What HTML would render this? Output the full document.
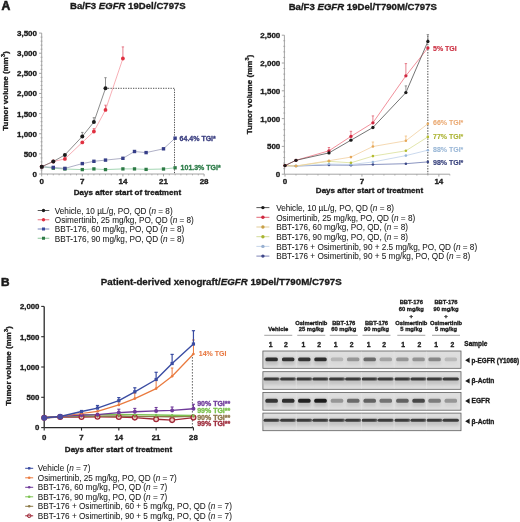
<!DOCTYPE html>
<html><head><meta charset="utf-8"><style>
html,body{margin:0;padding:0;background:#fff;}
svg{display:block;font-family:"Liberation Sans", sans-serif;filter:blur(0.3px);}
</style></head><body>
<svg width="520" height="522" viewBox="0 0 520 522">
<rect width="520" height="522" fill="#fff"/>
<text x="1.50" y="9.90" font-size="12.2" font-weight="bold" text-anchor="start" fill="#1a1a1a" stroke="#1a1a1a" stroke-width="0.6" >A</text>
<text x="70.00" y="9.40" font-size="9.6" font-weight="bold" text-anchor="start" fill="#1a1a1a" stroke="#1a1a1a" stroke-width="0.32" >Ba/F3 <tspan font-style="italic">EGFR</tspan> 19Del/C797S</text>
<line x1="41.70" y1="33.09" x2="41.70" y2="174.00" stroke="#9a9a9a" stroke-width="0.9" />
<line x1="39.10" y1="174.00" x2="41.70" y2="174.00" stroke="#9a9a9a" stroke-width="0.9" />
<text x="37.00" y="176.90" font-size="8.0" font-weight="bold" text-anchor="end" fill="#1a1a1a" stroke="#1a1a1a" stroke-width="0.32" >0</text>
<line x1="40.50" y1="169.97" x2="42.50" y2="169.97" stroke="#9a9a9a" stroke-width="0.7" />
<line x1="40.50" y1="165.95" x2="42.50" y2="165.95" stroke="#9a9a9a" stroke-width="0.7" />
<line x1="40.50" y1="161.92" x2="42.50" y2="161.92" stroke="#9a9a9a" stroke-width="0.7" />
<line x1="40.50" y1="157.90" x2="42.50" y2="157.90" stroke="#9a9a9a" stroke-width="0.7" />
<line x1="39.10" y1="153.87" x2="41.70" y2="153.87" stroke="#9a9a9a" stroke-width="0.9" />
<text x="37.00" y="156.77" font-size="8.0" font-weight="bold" text-anchor="end" fill="#1a1a1a" stroke="#1a1a1a" stroke-width="0.32" >500</text>
<line x1="40.50" y1="149.84" x2="42.50" y2="149.84" stroke="#9a9a9a" stroke-width="0.7" />
<line x1="40.50" y1="145.82" x2="42.50" y2="145.82" stroke="#9a9a9a" stroke-width="0.7" />
<line x1="40.50" y1="141.79" x2="42.50" y2="141.79" stroke="#9a9a9a" stroke-width="0.7" />
<line x1="40.50" y1="137.77" x2="42.50" y2="137.77" stroke="#9a9a9a" stroke-width="0.7" />
<line x1="39.10" y1="133.74" x2="41.70" y2="133.74" stroke="#9a9a9a" stroke-width="0.9" />
<text x="37.00" y="136.64" font-size="8.0" font-weight="bold" text-anchor="end" fill="#1a1a1a" stroke="#1a1a1a" stroke-width="0.32" >1,000</text>
<line x1="40.50" y1="129.71" x2="42.50" y2="129.71" stroke="#9a9a9a" stroke-width="0.7" />
<line x1="40.50" y1="125.69" x2="42.50" y2="125.69" stroke="#9a9a9a" stroke-width="0.7" />
<line x1="40.50" y1="121.66" x2="42.50" y2="121.66" stroke="#9a9a9a" stroke-width="0.7" />
<line x1="40.50" y1="117.64" x2="42.50" y2="117.64" stroke="#9a9a9a" stroke-width="0.7" />
<line x1="39.10" y1="113.61" x2="41.70" y2="113.61" stroke="#9a9a9a" stroke-width="0.9" />
<text x="37.00" y="116.51" font-size="8.0" font-weight="bold" text-anchor="end" fill="#1a1a1a" stroke="#1a1a1a" stroke-width="0.32" >1,500</text>
<line x1="40.50" y1="109.58" x2="42.50" y2="109.58" stroke="#9a9a9a" stroke-width="0.7" />
<line x1="40.50" y1="105.56" x2="42.50" y2="105.56" stroke="#9a9a9a" stroke-width="0.7" />
<line x1="40.50" y1="101.53" x2="42.50" y2="101.53" stroke="#9a9a9a" stroke-width="0.7" />
<line x1="40.50" y1="97.51" x2="42.50" y2="97.51" stroke="#9a9a9a" stroke-width="0.7" />
<line x1="39.10" y1="93.48" x2="41.70" y2="93.48" stroke="#9a9a9a" stroke-width="0.9" />
<text x="37.00" y="96.38" font-size="8.0" font-weight="bold" text-anchor="end" fill="#1a1a1a" stroke="#1a1a1a" stroke-width="0.32" >2,000</text>
<line x1="40.50" y1="89.45" x2="42.50" y2="89.45" stroke="#9a9a9a" stroke-width="0.7" />
<line x1="40.50" y1="85.43" x2="42.50" y2="85.43" stroke="#9a9a9a" stroke-width="0.7" />
<line x1="40.50" y1="81.40" x2="42.50" y2="81.40" stroke="#9a9a9a" stroke-width="0.7" />
<line x1="40.50" y1="77.38" x2="42.50" y2="77.38" stroke="#9a9a9a" stroke-width="0.7" />
<line x1="39.10" y1="73.35" x2="41.70" y2="73.35" stroke="#9a9a9a" stroke-width="0.9" />
<text x="37.00" y="76.25" font-size="8.0" font-weight="bold" text-anchor="end" fill="#1a1a1a" stroke="#1a1a1a" stroke-width="0.32" >2,500</text>
<line x1="40.50" y1="69.32" x2="42.50" y2="69.32" stroke="#9a9a9a" stroke-width="0.7" />
<line x1="40.50" y1="65.30" x2="42.50" y2="65.30" stroke="#9a9a9a" stroke-width="0.7" />
<line x1="40.50" y1="61.27" x2="42.50" y2="61.27" stroke="#9a9a9a" stroke-width="0.7" />
<line x1="40.50" y1="57.25" x2="42.50" y2="57.25" stroke="#9a9a9a" stroke-width="0.7" />
<line x1="39.10" y1="53.22" x2="41.70" y2="53.22" stroke="#9a9a9a" stroke-width="0.9" />
<text x="37.00" y="56.12" font-size="8.0" font-weight="bold" text-anchor="end" fill="#1a1a1a" stroke="#1a1a1a" stroke-width="0.32" >3,000</text>
<line x1="40.50" y1="49.19" x2="42.50" y2="49.19" stroke="#9a9a9a" stroke-width="0.7" />
<line x1="40.50" y1="45.17" x2="42.50" y2="45.17" stroke="#9a9a9a" stroke-width="0.7" />
<line x1="40.50" y1="41.14" x2="42.50" y2="41.14" stroke="#9a9a9a" stroke-width="0.7" />
<line x1="40.50" y1="37.12" x2="42.50" y2="37.12" stroke="#9a9a9a" stroke-width="0.7" />
<line x1="39.10" y1="33.09" x2="41.70" y2="33.09" stroke="#9a9a9a" stroke-width="0.9" />
<text x="37.00" y="35.99" font-size="8.0" font-weight="bold" text-anchor="end" fill="#1a1a1a" stroke="#1a1a1a" stroke-width="0.32" >3,500</text>
<line x1="41.70" y1="174.00" x2="204.10" y2="174.00" stroke="#9a9a9a" stroke-width="0.9" />
<line x1="41.70" y1="174.00" x2="41.70" y2="176.40" stroke="#9a9a9a" stroke-width="0.9" />
<text x="41.70" y="184.40" font-size="8.0" font-weight="bold" text-anchor="middle" fill="#1a1a1a" stroke="#1a1a1a" stroke-width="0.32" >0</text>
<line x1="47.50" y1="174.00" x2="47.50" y2="175.40" stroke="#9a9a9a" stroke-width="0.7" />
<line x1="53.30" y1="174.00" x2="53.30" y2="175.40" stroke="#9a9a9a" stroke-width="0.7" />
<line x1="59.10" y1="174.00" x2="59.10" y2="175.40" stroke="#9a9a9a" stroke-width="0.7" />
<line x1="64.90" y1="174.00" x2="64.90" y2="175.40" stroke="#9a9a9a" stroke-width="0.7" />
<line x1="70.70" y1="174.00" x2="70.70" y2="175.40" stroke="#9a9a9a" stroke-width="0.7" />
<line x1="76.50" y1="174.00" x2="76.50" y2="175.40" stroke="#9a9a9a" stroke-width="0.7" />
<line x1="82.30" y1="174.00" x2="82.30" y2="176.40" stroke="#9a9a9a" stroke-width="0.9" />
<text x="82.30" y="184.40" font-size="8.0" font-weight="bold" text-anchor="middle" fill="#1a1a1a" stroke="#1a1a1a" stroke-width="0.32" >7</text>
<line x1="88.10" y1="174.00" x2="88.10" y2="175.40" stroke="#9a9a9a" stroke-width="0.7" />
<line x1="93.90" y1="174.00" x2="93.90" y2="175.40" stroke="#9a9a9a" stroke-width="0.7" />
<line x1="99.70" y1="174.00" x2="99.70" y2="175.40" stroke="#9a9a9a" stroke-width="0.7" />
<line x1="105.50" y1="174.00" x2="105.50" y2="175.40" stroke="#9a9a9a" stroke-width="0.7" />
<line x1="111.30" y1="174.00" x2="111.30" y2="175.40" stroke="#9a9a9a" stroke-width="0.7" />
<line x1="117.10" y1="174.00" x2="117.10" y2="175.40" stroke="#9a9a9a" stroke-width="0.7" />
<line x1="122.90" y1="174.00" x2="122.90" y2="176.40" stroke="#9a9a9a" stroke-width="0.9" />
<text x="122.90" y="184.40" font-size="8.0" font-weight="bold" text-anchor="middle" fill="#1a1a1a" stroke="#1a1a1a" stroke-width="0.32" >14</text>
<line x1="128.70" y1="174.00" x2="128.70" y2="175.40" stroke="#9a9a9a" stroke-width="0.7" />
<line x1="134.50" y1="174.00" x2="134.50" y2="175.40" stroke="#9a9a9a" stroke-width="0.7" />
<line x1="140.30" y1="174.00" x2="140.30" y2="175.40" stroke="#9a9a9a" stroke-width="0.7" />
<line x1="146.10" y1="174.00" x2="146.10" y2="175.40" stroke="#9a9a9a" stroke-width="0.7" />
<line x1="151.90" y1="174.00" x2="151.90" y2="175.40" stroke="#9a9a9a" stroke-width="0.7" />
<line x1="157.70" y1="174.00" x2="157.70" y2="175.40" stroke="#9a9a9a" stroke-width="0.7" />
<line x1="163.50" y1="174.00" x2="163.50" y2="176.40" stroke="#9a9a9a" stroke-width="0.9" />
<text x="163.50" y="184.40" font-size="8.0" font-weight="bold" text-anchor="middle" fill="#1a1a1a" stroke="#1a1a1a" stroke-width="0.32" >21</text>
<line x1="169.30" y1="174.00" x2="169.30" y2="175.40" stroke="#9a9a9a" stroke-width="0.7" />
<line x1="175.10" y1="174.00" x2="175.10" y2="175.40" stroke="#9a9a9a" stroke-width="0.7" />
<line x1="180.90" y1="174.00" x2="180.90" y2="175.40" stroke="#9a9a9a" stroke-width="0.7" />
<line x1="186.70" y1="174.00" x2="186.70" y2="175.40" stroke="#9a9a9a" stroke-width="0.7" />
<line x1="192.50" y1="174.00" x2="192.50" y2="175.40" stroke="#9a9a9a" stroke-width="0.7" />
<line x1="198.30" y1="174.00" x2="198.30" y2="175.40" stroke="#9a9a9a" stroke-width="0.7" />
<line x1="204.10" y1="174.00" x2="204.10" y2="176.40" stroke="#9a9a9a" stroke-width="0.9" />
<text x="204.10" y="184.40" font-size="8.0" font-weight="bold" text-anchor="middle" fill="#1a1a1a" stroke="#1a1a1a" stroke-width="0.32" >28</text>
<text x="127.40" y="194.60" font-size="8.05" font-weight="bold" text-anchor="middle" fill="#1a1a1a" stroke="#1a1a1a" stroke-width="0.32" >Days after start of treatment</text>
<text transform="translate(7.6,91) rotate(-90)" font-size="8" font-weight="bold" text-anchor="middle" fill="#1a1a1a" stroke="#1a1a1a" stroke-width="0.32">Tumor volume (mm<tspan font-size="5.6" dy="-3.1">3</tspan><tspan dy="3.1">)</tspan></text>
<polyline points="105.50,88.30 174.5,88.30 174.5,174.00" fill="none" stroke="#505050" stroke-width="1.0" stroke-dasharray="1.3,1.2"/>
<polyline points="41.70,166.70 53.30,168.20 64.90,169.00 82.30,169.60 93.90,168.90 105.50,169.60 122.90,168.90 134.50,168.90 146.10,169.40 163.50,169.00 175.10,167.80" fill="none" stroke="#8ccca0" stroke-width="0.8" stroke-linejoin="round" />
<polyline points="41.70,166.70 53.30,167.40 64.90,168.40 82.30,163.60 93.90,161.30 105.50,160.10 122.90,158.30 134.50,151.50 146.10,152.60 163.50,148.80 175.10,138.20" fill="none" stroke="#9a9cb8" stroke-width="0.8" stroke-linejoin="round" />
<polyline points="41.70,166.70 53.30,161.50 64.90,158.90 82.30,142.40 93.90,131.50 105.50,109.90 122.90,58.50" fill="none" stroke="#f4949e" stroke-width="0.75" stroke-linejoin="round" />
<polyline points="41.70,166.70 53.30,161.50 64.90,154.90 82.30,136.40 93.90,122.00 105.50,88.30" fill="none" stroke="#666" stroke-width="0.75" stroke-linejoin="round" />
<line x1="82.30" y1="136.40" x2="82.30" y2="132.40" stroke="#777" stroke-width="0.8" />
<line x1="81.10" y1="132.40" x2="83.50" y2="132.40" stroke="#777" stroke-width="0.8" />
<line x1="93.90" y1="122.00" x2="93.90" y2="117.70" stroke="#777" stroke-width="0.8" />
<line x1="92.70" y1="117.70" x2="95.10" y2="117.70" stroke="#777" stroke-width="0.8" />
<line x1="105.50" y1="88.30" x2="105.50" y2="77.70" stroke="#777" stroke-width="0.8" />
<line x1="104.30" y1="77.70" x2="106.70" y2="77.70" stroke="#777" stroke-width="0.8" />
<line x1="93.90" y1="131.50" x2="93.90" y2="128.60" stroke="#e06070" stroke-width="0.8" />
<line x1="92.70" y1="128.60" x2="95.10" y2="128.60" stroke="#e06070" stroke-width="0.8" />
<line x1="105.50" y1="109.90" x2="105.50" y2="105.20" stroke="#e06070" stroke-width="0.8" />
<line x1="104.30" y1="105.20" x2="106.70" y2="105.20" stroke="#e06070" stroke-width="0.8" />
<line x1="122.90" y1="58.50" x2="122.90" y2="46.90" stroke="#e06070" stroke-width="0.8" />
<line x1="121.70" y1="46.90" x2="124.10" y2="46.90" stroke="#e06070" stroke-width="0.8" />
<rect x="40.05" y="165.05" width="3.3" height="3.3" fill="#2d7a45"/>
<rect x="51.65" y="166.55" width="3.3" height="3.3" fill="#2d7a45"/>
<rect x="63.25" y="167.35" width="3.3" height="3.3" fill="#2d7a45"/>
<rect x="80.65" y="167.95" width="3.3" height="3.3" fill="#2d7a45"/>
<rect x="92.25" y="167.25" width="3.3" height="3.3" fill="#2d7a45"/>
<rect x="103.85" y="167.95" width="3.3" height="3.3" fill="#2d7a45"/>
<rect x="121.25" y="167.25" width="3.3" height="3.3" fill="#2d7a45"/>
<rect x="132.85" y="167.25" width="3.3" height="3.3" fill="#2d7a45"/>
<rect x="144.45" y="167.75" width="3.3" height="3.3" fill="#2d7a45"/>
<rect x="161.85" y="167.35" width="3.3" height="3.3" fill="#2d7a45"/>
<rect x="173.45" y="166.15" width="3.3" height="3.3" fill="#2d7a45"/>
<rect x="40.00" y="165.00" width="3.4" height="3.4" fill="#363e88"/>
<rect x="51.60" y="165.70" width="3.4" height="3.4" fill="#363e88"/>
<rect x="63.20" y="166.70" width="3.4" height="3.4" fill="#363e88"/>
<rect x="80.60" y="161.90" width="3.4" height="3.4" fill="#363e88"/>
<rect x="92.20" y="159.60" width="3.4" height="3.4" fill="#363e88"/>
<rect x="103.80" y="158.40" width="3.4" height="3.4" fill="#363e88"/>
<rect x="121.20" y="156.60" width="3.4" height="3.4" fill="#363e88"/>
<rect x="132.80" y="149.80" width="3.4" height="3.4" fill="#363e88"/>
<rect x="144.40" y="150.90" width="3.4" height="3.4" fill="#363e88"/>
<rect x="161.80" y="147.10" width="3.4" height="3.4" fill="#363e88"/>
<rect x="173.40" y="136.50" width="3.4" height="3.4" fill="#363e88"/>
<circle cx="41.70" cy="166.70" r="1.9" fill="#e03040" stroke="none" stroke-width="0"/>
<circle cx="53.30" cy="161.50" r="1.9" fill="#e03040" stroke="none" stroke-width="0"/>
<circle cx="64.90" cy="158.90" r="1.9" fill="#e03040" stroke="none" stroke-width="0"/>
<circle cx="82.30" cy="142.40" r="1.9" fill="#e03040" stroke="none" stroke-width="0"/>
<circle cx="93.90" cy="131.50" r="1.9" fill="#e03040" stroke="none" stroke-width="0"/>
<circle cx="105.50" cy="109.90" r="1.9" fill="#e03040" stroke="none" stroke-width="0"/>
<circle cx="122.90" cy="58.50" r="1.9" fill="#e03040" stroke="none" stroke-width="0"/>
<circle cx="41.70" cy="166.70" r="2.0" fill="#1b1b1b" stroke="none" stroke-width="0"/>
<circle cx="53.30" cy="161.50" r="2.0" fill="#1b1b1b" stroke="none" stroke-width="0"/>
<circle cx="64.90" cy="154.90" r="2.0" fill="#1b1b1b" stroke="none" stroke-width="0"/>
<circle cx="82.30" cy="136.40" r="2.0" fill="#1b1b1b" stroke="none" stroke-width="0"/>
<circle cx="93.90" cy="122.00" r="2.0" fill="#1b1b1b" stroke="none" stroke-width="0"/>
<circle cx="105.50" cy="88.30" r="2.0" fill="#1b1b1b" stroke="none" stroke-width="0"/>
<text x="179.60" y="140.50" font-size="7.0" font-weight="bold" text-anchor="start" fill="#3b3f80" stroke="#3b3f80" stroke-width="0.32" >64.4% TGI*</text>
<text x="180.60" y="170.20" font-size="7.0" font-weight="bold" text-anchor="start" fill="#2e7d4a" stroke="#2e7d4a" stroke-width="0.32" >101.3% TGI*</text>
<text x="288.70" y="9.60" font-size="9.6" font-weight="bold" text-anchor="start" fill="#1a1a1a" stroke="#1a1a1a" stroke-width="0.32" >Ba/F3 <tspan font-style="italic">EGFR</tspan> 19Del/T790M/C797S</text>
<line x1="284.40" y1="35.20" x2="284.40" y2="174.20" stroke="#9a9a9a" stroke-width="0.9" />
<line x1="281.80" y1="174.20" x2="284.40" y2="174.20" stroke="#9a9a9a" stroke-width="0.9" />
<text x="280.30" y="177.10" font-size="8.0" font-weight="bold" text-anchor="end" fill="#1a1a1a" stroke="#1a1a1a" stroke-width="0.32" >0</text>
<line x1="283.20" y1="168.64" x2="285.20" y2="168.64" stroke="#9a9a9a" stroke-width="0.7" />
<line x1="283.20" y1="163.08" x2="285.20" y2="163.08" stroke="#9a9a9a" stroke-width="0.7" />
<line x1="283.20" y1="157.52" x2="285.20" y2="157.52" stroke="#9a9a9a" stroke-width="0.7" />
<line x1="283.20" y1="151.96" x2="285.20" y2="151.96" stroke="#9a9a9a" stroke-width="0.7" />
<line x1="281.80" y1="146.40" x2="284.40" y2="146.40" stroke="#9a9a9a" stroke-width="0.9" />
<text x="280.30" y="149.30" font-size="8.0" font-weight="bold" text-anchor="end" fill="#1a1a1a" stroke="#1a1a1a" stroke-width="0.32" >500</text>
<line x1="283.20" y1="140.84" x2="285.20" y2="140.84" stroke="#9a9a9a" stroke-width="0.7" />
<line x1="283.20" y1="135.28" x2="285.20" y2="135.28" stroke="#9a9a9a" stroke-width="0.7" />
<line x1="283.20" y1="129.72" x2="285.20" y2="129.72" stroke="#9a9a9a" stroke-width="0.7" />
<line x1="283.20" y1="124.16" x2="285.20" y2="124.16" stroke="#9a9a9a" stroke-width="0.7" />
<line x1="281.80" y1="118.60" x2="284.40" y2="118.60" stroke="#9a9a9a" stroke-width="0.9" />
<text x="280.30" y="121.50" font-size="8.0" font-weight="bold" text-anchor="end" fill="#1a1a1a" stroke="#1a1a1a" stroke-width="0.32" >1,000</text>
<line x1="283.20" y1="113.04" x2="285.20" y2="113.04" stroke="#9a9a9a" stroke-width="0.7" />
<line x1="283.20" y1="107.48" x2="285.20" y2="107.48" stroke="#9a9a9a" stroke-width="0.7" />
<line x1="283.20" y1="101.92" x2="285.20" y2="101.92" stroke="#9a9a9a" stroke-width="0.7" />
<line x1="283.20" y1="96.36" x2="285.20" y2="96.36" stroke="#9a9a9a" stroke-width="0.7" />
<line x1="281.80" y1="90.80" x2="284.40" y2="90.80" stroke="#9a9a9a" stroke-width="0.9" />
<text x="280.30" y="93.70" font-size="8.0" font-weight="bold" text-anchor="end" fill="#1a1a1a" stroke="#1a1a1a" stroke-width="0.32" >1,500</text>
<line x1="283.20" y1="85.24" x2="285.20" y2="85.24" stroke="#9a9a9a" stroke-width="0.7" />
<line x1="283.20" y1="79.68" x2="285.20" y2="79.68" stroke="#9a9a9a" stroke-width="0.7" />
<line x1="283.20" y1="74.12" x2="285.20" y2="74.12" stroke="#9a9a9a" stroke-width="0.7" />
<line x1="283.20" y1="68.56" x2="285.20" y2="68.56" stroke="#9a9a9a" stroke-width="0.7" />
<line x1="281.80" y1="63.00" x2="284.40" y2="63.00" stroke="#9a9a9a" stroke-width="0.9" />
<text x="280.30" y="65.90" font-size="8.0" font-weight="bold" text-anchor="end" fill="#1a1a1a" stroke="#1a1a1a" stroke-width="0.32" >2,000</text>
<line x1="283.20" y1="57.44" x2="285.20" y2="57.44" stroke="#9a9a9a" stroke-width="0.7" />
<line x1="283.20" y1="51.88" x2="285.20" y2="51.88" stroke="#9a9a9a" stroke-width="0.7" />
<line x1="283.20" y1="46.32" x2="285.20" y2="46.32" stroke="#9a9a9a" stroke-width="0.7" />
<line x1="283.20" y1="40.76" x2="285.20" y2="40.76" stroke="#9a9a9a" stroke-width="0.7" />
<line x1="281.80" y1="35.20" x2="284.40" y2="35.20" stroke="#9a9a9a" stroke-width="0.9" />
<text x="280.30" y="38.10" font-size="8.0" font-weight="bold" text-anchor="end" fill="#1a1a1a" stroke="#1a1a1a" stroke-width="0.32" >2,500</text>
<line x1="284.40" y1="174.20" x2="449.85" y2="174.20" stroke="#9a9a9a" stroke-width="0.9" />
<line x1="285.00" y1="174.20" x2="285.00" y2="176.60" stroke="#9a9a9a" stroke-width="0.9" />
<text x="285.00" y="184.10" font-size="8.0" font-weight="bold" text-anchor="middle" fill="#1a1a1a" stroke="#1a1a1a" stroke-width="0.32" >0</text>
<line x1="295.99" y1="174.20" x2="295.99" y2="175.60" stroke="#9a9a9a" stroke-width="0.7" />
<line x1="306.98" y1="174.20" x2="306.98" y2="175.60" stroke="#9a9a9a" stroke-width="0.7" />
<line x1="317.97" y1="174.20" x2="317.97" y2="175.60" stroke="#9a9a9a" stroke-width="0.7" />
<line x1="328.96" y1="174.20" x2="328.96" y2="175.60" stroke="#9a9a9a" stroke-width="0.7" />
<line x1="339.95" y1="174.20" x2="339.95" y2="175.60" stroke="#9a9a9a" stroke-width="0.7" />
<line x1="350.94" y1="174.20" x2="350.94" y2="175.60" stroke="#9a9a9a" stroke-width="0.7" />
<line x1="361.93" y1="174.20" x2="361.93" y2="176.60" stroke="#9a9a9a" stroke-width="0.9" />
<text x="361.93" y="184.10" font-size="8.0" font-weight="bold" text-anchor="middle" fill="#1a1a1a" stroke="#1a1a1a" stroke-width="0.32" >7</text>
<line x1="372.92" y1="174.20" x2="372.92" y2="175.60" stroke="#9a9a9a" stroke-width="0.7" />
<line x1="383.91" y1="174.20" x2="383.91" y2="175.60" stroke="#9a9a9a" stroke-width="0.7" />
<line x1="394.90" y1="174.20" x2="394.90" y2="175.60" stroke="#9a9a9a" stroke-width="0.7" />
<line x1="405.89" y1="174.20" x2="405.89" y2="175.60" stroke="#9a9a9a" stroke-width="0.7" />
<line x1="416.88" y1="174.20" x2="416.88" y2="175.60" stroke="#9a9a9a" stroke-width="0.7" />
<line x1="427.87" y1="174.20" x2="427.87" y2="175.60" stroke="#9a9a9a" stroke-width="0.7" />
<line x1="438.86" y1="174.20" x2="438.86" y2="176.60" stroke="#9a9a9a" stroke-width="0.9" />
<text x="438.86" y="184.10" font-size="8.0" font-weight="bold" text-anchor="middle" fill="#1a1a1a" stroke="#1a1a1a" stroke-width="0.32" >14</text>
<line x1="449.85" y1="174.20" x2="449.85" y2="175.60" stroke="#9a9a9a" stroke-width="0.7" />
<text x="369.50" y="193.40" font-size="8.05" font-weight="bold" text-anchor="middle" fill="#1a1a1a" stroke="#1a1a1a" stroke-width="0.32" >Days after start of treatment</text>
<text transform="translate(251.9,94.5) rotate(-90)" font-size="8" font-weight="bold" text-anchor="middle" fill="#1a1a1a" stroke="#1a1a1a" stroke-width="0.32">Tumor volume (mm<tspan font-size="5.6" dy="-3.1">3</tspan><tspan dy="3.1">)</tspan></text>
<line x1="427.80" y1="35.80" x2="427.80" y2="174.20" stroke="#6a6a6a" stroke-width="1.2" stroke-dasharray="1.4,1.3"/>
<polyline points="285.00,165.60 295.99,166.00 328.96,165.00 350.94,165.20 372.92,164.50 405.89,163.70 427.87,161.90" fill="none" stroke="#6c78b0" stroke-width="0.8" stroke-linejoin="round" />
<polyline points="285.00,165.60 295.99,166.00 328.96,164.00 350.94,164.50 372.92,162.00 405.89,155.60 427.87,150.20" fill="none" stroke="#bed0ea" stroke-width="0.8" stroke-linejoin="round" />
<polyline points="285.00,165.60 295.99,166.00 328.96,161.30 350.94,162.80 372.92,156.10 405.89,150.80 427.87,136.90" fill="none" stroke="#dadf98" stroke-width="0.8" stroke-linejoin="round" />
<polyline points="285.00,165.60 295.99,166.00 328.96,160.70 350.94,157.10 372.92,146.50 405.89,140.80 427.87,123.80" fill="none" stroke="#f3cfa0" stroke-width="0.8" stroke-linejoin="round" />
<polyline points="285.00,165.60 295.99,160.30 328.96,150.80 350.94,136.40 372.92,122.80 405.89,75.80 427.87,48.00" fill="none" stroke="#ee7482" stroke-width="0.8" stroke-linejoin="round" />
<polyline points="285.00,165.60 295.99,160.30 328.96,152.90 350.94,140.20 372.92,127.50 405.89,92.60 427.87,41.50" fill="none" stroke="#505050" stroke-width="0.8" stroke-linejoin="round" />
<line x1="405.89" y1="92.60" x2="405.89" y2="85.90" stroke="#777" stroke-width="0.8" />
<line x1="404.69" y1="85.90" x2="407.09" y2="85.90" stroke="#777" stroke-width="0.8" />
<line x1="427.87" y1="41.50" x2="427.87" y2="34.60" stroke="#777" stroke-width="0.8" />
<line x1="426.67" y1="34.60" x2="429.07" y2="34.60" stroke="#777" stroke-width="0.8" />
<line x1="328.96" y1="150.80" x2="328.96" y2="147.50" stroke="#e06070" stroke-width="0.8" />
<line x1="327.76" y1="147.50" x2="330.16" y2="147.50" stroke="#e06070" stroke-width="0.8" />
<line x1="350.94" y1="136.40" x2="350.94" y2="131.30" stroke="#e06070" stroke-width="0.8" />
<line x1="349.74" y1="131.30" x2="352.14" y2="131.30" stroke="#e06070" stroke-width="0.8" />
<line x1="372.92" y1="122.80" x2="372.92" y2="115.90" stroke="#e06070" stroke-width="0.8" />
<line x1="371.72" y1="115.90" x2="374.12" y2="115.90" stroke="#e06070" stroke-width="0.8" />
<line x1="405.89" y1="75.80" x2="405.89" y2="63.60" stroke="#e06070" stroke-width="0.8" />
<line x1="404.69" y1="63.60" x2="407.09" y2="63.60" stroke="#e06070" stroke-width="0.8" />
<line x1="372.92" y1="146.50" x2="372.92" y2="142.00" stroke="#f0b870" stroke-width="0.7" />
<line x1="371.72" y1="142.00" x2="374.12" y2="142.00" stroke="#f0b870" stroke-width="0.7" />
<line x1="405.89" y1="140.80" x2="405.89" y2="136.00" stroke="#f0b870" stroke-width="0.7" />
<line x1="404.69" y1="136.00" x2="407.09" y2="136.00" stroke="#f0b870" stroke-width="0.7" />
<circle cx="285.00" cy="165.60" r="1.3" fill="#3a4686" stroke="none" stroke-width="0"/>
<circle cx="295.99" cy="166.00" r="1.3" fill="#3a4686" stroke="none" stroke-width="0"/>
<circle cx="328.96" cy="165.00" r="1.3" fill="#3a4686" stroke="none" stroke-width="0"/>
<circle cx="350.94" cy="165.20" r="1.3" fill="#3a4686" stroke="none" stroke-width="0"/>
<circle cx="372.92" cy="164.50" r="1.3" fill="#3a4686" stroke="none" stroke-width="0"/>
<circle cx="405.89" cy="163.70" r="1.3" fill="#3a4686" stroke="none" stroke-width="0"/>
<circle cx="427.87" cy="161.90" r="1.3" fill="#3a4686" stroke="none" stroke-width="0"/>
<circle cx="285.00" cy="165.60" r="1.3" fill="#98b6da" stroke="none" stroke-width="0"/>
<circle cx="295.99" cy="166.00" r="1.3" fill="#98b6da" stroke="none" stroke-width="0"/>
<circle cx="328.96" cy="164.00" r="1.3" fill="#98b6da" stroke="none" stroke-width="0"/>
<circle cx="350.94" cy="164.50" r="1.3" fill="#98b6da" stroke="none" stroke-width="0"/>
<circle cx="372.92" cy="162.00" r="1.3" fill="#98b6da" stroke="none" stroke-width="0"/>
<circle cx="405.89" cy="155.60" r="1.3" fill="#98b6da" stroke="none" stroke-width="0"/>
<circle cx="427.87" cy="150.20" r="1.3" fill="#98b6da" stroke="none" stroke-width="0"/>
<circle cx="285.00" cy="165.60" r="1.3" fill="#b4bc30" stroke="none" stroke-width="0"/>
<circle cx="295.99" cy="166.00" r="1.3" fill="#b4bc30" stroke="none" stroke-width="0"/>
<circle cx="328.96" cy="161.30" r="1.3" fill="#b4bc30" stroke="none" stroke-width="0"/>
<circle cx="350.94" cy="162.80" r="1.3" fill="#b4bc30" stroke="none" stroke-width="0"/>
<circle cx="372.92" cy="156.10" r="1.3" fill="#b4bc30" stroke="none" stroke-width="0"/>
<circle cx="405.89" cy="150.80" r="1.3" fill="#b4bc30" stroke="none" stroke-width="0"/>
<circle cx="427.87" cy="136.90" r="1.3" fill="#b4bc30" stroke="none" stroke-width="0"/>
<circle cx="285.00" cy="165.60" r="1.3" fill="#e6a85a" stroke="none" stroke-width="0"/>
<circle cx="295.99" cy="166.00" r="1.3" fill="#e6a85a" stroke="none" stroke-width="0"/>
<circle cx="328.96" cy="160.70" r="1.3" fill="#e6a85a" stroke="none" stroke-width="0"/>
<circle cx="350.94" cy="157.10" r="1.3" fill="#e6a85a" stroke="none" stroke-width="0"/>
<circle cx="372.92" cy="146.50" r="1.3" fill="#e6a85a" stroke="none" stroke-width="0"/>
<circle cx="405.89" cy="140.80" r="1.3" fill="#e6a85a" stroke="none" stroke-width="0"/>
<circle cx="427.87" cy="123.80" r="1.3" fill="#e6a85a" stroke="none" stroke-width="0"/>
<circle cx="285.00" cy="165.60" r="1.65" fill="#d02840" stroke="none" stroke-width="0"/>
<circle cx="295.99" cy="160.30" r="1.65" fill="#d02840" stroke="none" stroke-width="0"/>
<circle cx="328.96" cy="150.80" r="1.65" fill="#d02840" stroke="none" stroke-width="0"/>
<circle cx="350.94" cy="136.40" r="1.65" fill="#d02840" stroke="none" stroke-width="0"/>
<circle cx="372.92" cy="122.80" r="1.65" fill="#d02840" stroke="none" stroke-width="0"/>
<circle cx="405.89" cy="75.80" r="1.65" fill="#d02840" stroke="none" stroke-width="0"/>
<circle cx="427.87" cy="48.00" r="1.65" fill="#d02840" stroke="none" stroke-width="0"/>
<circle cx="285.00" cy="165.60" r="1.65" fill="#1b1b1b" stroke="none" stroke-width="0"/>
<circle cx="295.99" cy="160.30" r="1.65" fill="#1b1b1b" stroke="none" stroke-width="0"/>
<circle cx="328.96" cy="152.90" r="1.65" fill="#1b1b1b" stroke="none" stroke-width="0"/>
<circle cx="350.94" cy="140.20" r="1.65" fill="#1b1b1b" stroke="none" stroke-width="0"/>
<circle cx="372.92" cy="127.50" r="1.65" fill="#1b1b1b" stroke="none" stroke-width="0"/>
<circle cx="405.89" cy="92.60" r="1.65" fill="#1b1b1b" stroke="none" stroke-width="0"/>
<circle cx="427.87" cy="41.50" r="1.65" fill="#1b1b1b" stroke="none" stroke-width="0"/>
<text x="433.00" y="50.60" font-size="7.0" font-weight="bold" text-anchor="start" fill="#cc3042" stroke="#cc3042" stroke-width="0.15" >5% TGI</text>
<text x="433.00" y="125.20" font-size="7.0" font-weight="bold" text-anchor="start" fill="#eaa870" stroke="#eaa870" stroke-width="0.05" >66% TGI*</text>
<text x="433.00" y="139.00" font-size="7.0" font-weight="bold" text-anchor="start" fill="#acb434" stroke="#acb434" stroke-width="0.1" >77% TGI*</text>
<text x="433.00" y="152.30" font-size="7.0" font-weight="bold" text-anchor="start" fill="#98b6d6" stroke="#98b6d6" stroke-width="0.05" >88% TGI*</text>
<text x="433.00" y="165.00" font-size="7.0" font-weight="bold" text-anchor="start" fill="#343e7a" stroke="#343e7a" stroke-width="0.15" >98% TGI*</text>
<line x1="37.70" y1="210.50" x2="49.30" y2="210.50" stroke="#444" stroke-width="0.9" />
<circle cx="43.50" cy="210.50" r="1.7" fill="#1b1b1b" stroke="none" stroke-width="0"/>
<text x="54.80" y="213.80" font-size="8.2" font-weight="normal" text-anchor="start" fill="#1a1a1a" stroke="#1a1a1a" stroke-width="0.06" >Vehicle, 10 µL/g, PO, QD (<tspan font-style="italic">n</tspan> = 8)</text>
<line x1="37.70" y1="219.75" x2="49.30" y2="219.75" stroke="#e86070" stroke-width="0.9" />
<circle cx="43.50" cy="219.75" r="1.7" fill="#e03040" stroke="none" stroke-width="0"/>
<text x="54.80" y="223.05" font-size="8.2" font-weight="normal" text-anchor="start" fill="#1a1a1a" stroke="#1a1a1a" stroke-width="0.06" >Osimertinib, 25 mg/kg, PO, QD (<tspan font-style="italic">n</tspan> = 8)</text>
<line x1="37.70" y1="229.00" x2="49.30" y2="229.00" stroke="#6a78b8" stroke-width="0.9" />
<rect x="42.00" y="227.50" width="3.0" height="3.0" fill="#3a4a9a"/>
<text x="54.80" y="232.30" font-size="8.2" font-weight="normal" text-anchor="start" fill="#1a1a1a" stroke="#1a1a1a" stroke-width="0.06" >BBT-176, 60 mg/kg, PO, QD (<tspan font-style="italic">n</tspan> = 8)</text>
<line x1="37.70" y1="238.25" x2="49.30" y2="238.25" stroke="#7fc090" stroke-width="0.9" />
<rect x="42.00" y="236.75" width="3.0" height="3.0" fill="#2d7a45"/>
<text x="54.80" y="241.55" font-size="8.2" font-weight="normal" text-anchor="start" fill="#1a1a1a" stroke="#1a1a1a" stroke-width="0.06" >BBT-176, 90 mg/kg, PO, QD (<tspan font-style="italic">n</tspan> = 8)</text>
<line x1="256.40" y1="207.60" x2="269.40" y2="207.60" stroke="#444" stroke-width="0.9" />
<circle cx="262.90" cy="207.60" r="1.7" fill="#1b1b1b" stroke="none" stroke-width="0"/>
<text x="276.20" y="210.90" font-size="8.2" font-weight="normal" text-anchor="start" fill="#1a1a1a" stroke="#1a1a1a" stroke-width="0.06" >Vehicle, 10 µL/g, PO, QD (<tspan font-style="italic">n</tspan> = 8)</text>
<line x1="256.40" y1="217.30" x2="269.40" y2="217.30" stroke="#e05868" stroke-width="0.9" />
<circle cx="262.90" cy="217.30" r="1.7" fill="#d02840" stroke="none" stroke-width="0"/>
<text x="276.20" y="220.60" font-size="8.2" font-weight="normal" text-anchor="start" fill="#1a1a1a" stroke="#1a1a1a" stroke-width="0.06" >Osimertinib, 25 mg/kg, PO, QD (<tspan font-style="italic">n</tspan> = 8)</text>
<line x1="256.40" y1="227.00" x2="269.40" y2="227.00" stroke="#e0c890" stroke-width="0.9" />
<circle cx="262.90" cy="227.00" r="1.7" fill="#c8a048" stroke="none" stroke-width="0"/>
<text x="276.20" y="230.30" font-size="8.2" font-weight="normal" text-anchor="start" fill="#1a1a1a" stroke="#1a1a1a" stroke-width="0.06" >BBT-176, 60 mg/kg, PO, QD, (<tspan font-style="italic">n</tspan> = 8)</text>
<line x1="256.40" y1="236.70" x2="269.40" y2="236.70" stroke="#d0d890" stroke-width="0.9" />
<circle cx="262.90" cy="236.70" r="1.7" fill="#a8b430" stroke="none" stroke-width="0"/>
<text x="276.20" y="240.00" font-size="8.2" font-weight="normal" text-anchor="start" fill="#1a1a1a" stroke="#1a1a1a" stroke-width="0.06" >BBT-176, 90 mg/kg, PO, QD, (<tspan font-style="italic">n</tspan> = 8)</text>
<line x1="256.40" y1="246.40" x2="269.40" y2="246.40" stroke="#c0d0e8" stroke-width="0.9" />
<circle cx="262.90" cy="246.40" r="1.7" fill="#98b0d0" stroke="none" stroke-width="0"/>
<text x="276.20" y="249.70" font-size="8.2" font-weight="normal" text-anchor="start" fill="#1a1a1a" stroke="#1a1a1a" stroke-width="0.06" >BBT-176 + Osimertinib, 90 + 2.5 mg/kg, PO, QD (<tspan font-style="italic">n</tspan> = 8)</text>
<line x1="256.40" y1="256.10" x2="269.40" y2="256.10" stroke="#7078b0" stroke-width="0.9" />
<circle cx="262.90" cy="256.10" r="1.7" fill="#40488a" stroke="none" stroke-width="0"/>
<text x="276.20" y="259.40" font-size="8.2" font-weight="normal" text-anchor="start" fill="#1a1a1a" stroke="#1a1a1a" stroke-width="0.06" >BBT-176 + Osimertinib, 90 + 5 mg/kg, PO, QD (<tspan font-style="italic">n</tspan> = 8)</text>
<text x="0.90" y="286.30" font-size="11.8" font-weight="bold" text-anchor="start" fill="#1a1a1a" stroke="#1a1a1a" stroke-width="0.6" >B</text>
<text x="100.80" y="285.00" font-size="9.72" font-weight="bold" text-anchor="start" fill="#1a1a1a" stroke="#1a1a1a" stroke-width="0.32" >Patient-derived xenograft/<tspan font-style="italic">EGFR</tspan> 19Del/T790M/C797S</text>
<line x1="44.20" y1="306.40" x2="44.20" y2="427.60" stroke="#2a2a2a" stroke-width="1.3" />
<line x1="41.20" y1="427.60" x2="44.20" y2="427.60" stroke="#2a2a2a" stroke-width="1.1" />
<text x="39.40" y="430.40" font-size="7.8" font-weight="bold" text-anchor="end" fill="#1a1a1a" stroke="#1a1a1a" stroke-width="0.32" >0</text>
<line x1="41.20" y1="397.30" x2="44.20" y2="397.30" stroke="#2a2a2a" stroke-width="1.1" />
<text x="39.40" y="400.10" font-size="7.8" font-weight="bold" text-anchor="end" fill="#1a1a1a" stroke="#1a1a1a" stroke-width="0.32" >500</text>
<line x1="41.20" y1="367.00" x2="44.20" y2="367.00" stroke="#2a2a2a" stroke-width="1.1" />
<text x="39.40" y="369.80" font-size="7.8" font-weight="bold" text-anchor="end" fill="#1a1a1a" stroke="#1a1a1a" stroke-width="0.32" >1,000</text>
<line x1="41.20" y1="336.70" x2="44.20" y2="336.70" stroke="#2a2a2a" stroke-width="1.1" />
<text x="39.40" y="339.50" font-size="7.8" font-weight="bold" text-anchor="end" fill="#1a1a1a" stroke="#1a1a1a" stroke-width="0.32" >1,500</text>
<line x1="41.20" y1="306.40" x2="44.20" y2="306.40" stroke="#2a2a2a" stroke-width="1.1" />
<text x="39.40" y="309.20" font-size="7.8" font-weight="bold" text-anchor="end" fill="#1a1a1a" stroke="#1a1a1a" stroke-width="0.32" >2,000</text>
<line x1="44.20" y1="427.60" x2="193.44" y2="427.60" stroke="#2a2a2a" stroke-width="1.3" />
<line x1="44.20" y1="427.60" x2="44.20" y2="430.60" stroke="#2a2a2a" stroke-width="1.1" />
<text x="44.20" y="439.70" font-size="7.8" font-weight="bold" text-anchor="middle" fill="#1a1a1a" stroke="#1a1a1a" stroke-width="0.32" >0</text>
<line x1="81.51" y1="427.60" x2="81.51" y2="430.60" stroke="#2a2a2a" stroke-width="1.1" />
<text x="81.51" y="439.70" font-size="7.8" font-weight="bold" text-anchor="middle" fill="#1a1a1a" stroke="#1a1a1a" stroke-width="0.32" >7</text>
<line x1="118.82" y1="427.60" x2="118.82" y2="430.60" stroke="#2a2a2a" stroke-width="1.1" />
<text x="118.82" y="439.70" font-size="7.8" font-weight="bold" text-anchor="middle" fill="#1a1a1a" stroke="#1a1a1a" stroke-width="0.32" >14</text>
<line x1="156.13" y1="427.60" x2="156.13" y2="430.60" stroke="#2a2a2a" stroke-width="1.1" />
<text x="156.13" y="439.70" font-size="7.8" font-weight="bold" text-anchor="middle" fill="#1a1a1a" stroke="#1a1a1a" stroke-width="0.32" >21</text>
<line x1="193.44" y1="427.60" x2="193.44" y2="430.60" stroke="#2a2a2a" stroke-width="1.1" />
<text x="193.44" y="439.70" font-size="7.8" font-weight="bold" text-anchor="middle" fill="#1a1a1a" stroke="#1a1a1a" stroke-width="0.32" >28</text>
<text x="118.50" y="451.90" font-size="8.05" font-weight="bold" text-anchor="middle" fill="#1a1a1a" stroke="#1a1a1a" stroke-width="0.32" >Days after start of treatment</text>
<text transform="translate(10.8,366) rotate(-90)" font-size="8" font-weight="bold" text-anchor="middle" fill="#1a1a1a" stroke="#1a1a1a" stroke-width="0.32">Tumor volume (mm<tspan font-size="5.6" dy="-3.1">3</tspan><tspan dy="3.1">)</tspan></text>
<line x1="192.40" y1="354.00" x2="192.40" y2="427.60" stroke="#444" stroke-width="0.8" stroke-dasharray="1.6,1.4"/>
<polyline points="44.20,417.70 60.19,417.00 81.51,417.00 97.50,416.80 118.82,417.00 134.81,417.60 156.13,419.30 172.12,420.10 193.44,417.60" fill="none" stroke="#a02838" stroke-width="1.4" stroke-linejoin="round" />
<polyline points="44.20,417.70 60.19,416.80 81.51,416.20 97.50,416.20 118.82,416.00 134.81,416.40 156.13,416.60 172.12,416.80 193.44,416.40" fill="none" stroke="#8c7a48" stroke-width="1.4" stroke-linejoin="round" />
<polyline points="44.20,417.70 60.19,416.50 81.51,415.20 97.50,414.60 118.82,414.40 134.81,414.60 156.13,415.00 172.12,415.20 193.44,415.50" fill="none" stroke="#7cc250" stroke-width="1.4" stroke-linejoin="round" />
<polyline points="44.20,417.70 60.19,416.50 81.51,415.00 97.50,414.60 118.82,412.60 134.81,411.80 156.13,410.90 172.12,410.40 193.44,408.80" fill="none" stroke="#6f3a9a" stroke-width="1.4" stroke-linejoin="round" />
<polyline points="44.20,417.70 60.19,416.50 81.51,413.50 97.50,411.30 118.82,404.90 134.81,398.60 156.13,388.60 172.12,376.30 193.44,354.00" fill="none" stroke="#ea7a3e" stroke-width="1.25" stroke-linejoin="round" />
<polyline points="44.20,417.70 60.19,416.50 81.51,411.50 97.50,408.10 118.82,400.70 134.81,391.80 156.13,379.50 172.12,363.50 193.44,344.00" fill="none" stroke="#3a4ca2" stroke-width="1.4" stroke-linejoin="round" />
<line x1="118.82" y1="404.90" x2="118.82" y2="401.00" stroke="#ea7a3e" stroke-width="1.0" />
<line x1="117.52" y1="401.00" x2="120.12" y2="401.00" stroke="#ea7a3e" stroke-width="1.0" />
<line x1="134.81" y1="398.60" x2="134.81" y2="393.00" stroke="#ea7a3e" stroke-width="1.0" />
<line x1="133.51" y1="393.00" x2="136.11" y2="393.00" stroke="#ea7a3e" stroke-width="1.0" />
<line x1="156.13" y1="388.60" x2="156.13" y2="380.00" stroke="#ea7a3e" stroke-width="1.0" />
<line x1="154.83" y1="380.00" x2="157.43" y2="380.00" stroke="#ea7a3e" stroke-width="1.0" />
<line x1="172.12" y1="376.30" x2="172.12" y2="368.00" stroke="#ea7a3e" stroke-width="1.0" />
<line x1="170.82" y1="368.00" x2="173.42" y2="368.00" stroke="#ea7a3e" stroke-width="1.0" />
<line x1="193.44" y1="354.00" x2="193.44" y2="340.00" stroke="#ea7a3e" stroke-width="1.0" />
<line x1="192.14" y1="340.00" x2="194.74" y2="340.00" stroke="#ea7a3e" stroke-width="1.0" />
<line x1="97.50" y1="408.10" x2="97.50" y2="405.50" stroke="#3a4ca2" stroke-width="1.2" />
<line x1="95.90" y1="405.50" x2="99.10" y2="405.50" stroke="#3a4ca2" stroke-width="1.2" />
<line x1="118.82" y1="400.70" x2="118.82" y2="397.60" stroke="#3a4ca2" stroke-width="1.2" />
<line x1="117.22" y1="397.60" x2="120.42" y2="397.60" stroke="#3a4ca2" stroke-width="1.2" />
<line x1="134.81" y1="391.80" x2="134.81" y2="387.80" stroke="#3a4ca2" stroke-width="1.2" />
<line x1="133.21" y1="387.80" x2="136.41" y2="387.80" stroke="#3a4ca2" stroke-width="1.2" />
<line x1="156.13" y1="379.50" x2="156.13" y2="372.30" stroke="#3a4ca2" stroke-width="1.2" />
<line x1="154.53" y1="372.30" x2="157.73" y2="372.30" stroke="#3a4ca2" stroke-width="1.2" />
<line x1="172.12" y1="363.50" x2="172.12" y2="354.40" stroke="#3a4ca2" stroke-width="1.2" />
<line x1="170.52" y1="354.40" x2="173.72" y2="354.40" stroke="#3a4ca2" stroke-width="1.2" />
<line x1="193.44" y1="344.00" x2="193.44" y2="330.70" stroke="#3a4ca2" stroke-width="1.2" />
<line x1="191.84" y1="330.70" x2="195.04" y2="330.70" stroke="#3a4ca2" stroke-width="1.2" />
<line x1="118.82" y1="412.60" x2="118.82" y2="409.20" stroke="#6f3a9a" stroke-width="1.1" />
<line x1="117.32" y1="409.20" x2="120.32" y2="409.20" stroke="#6f3a9a" stroke-width="1.1" />
<line x1="134.81" y1="411.80" x2="134.81" y2="408.40" stroke="#6f3a9a" stroke-width="1.1" />
<line x1="133.31" y1="408.40" x2="136.31" y2="408.40" stroke="#6f3a9a" stroke-width="1.1" />
<line x1="156.13" y1="410.90" x2="156.13" y2="407.50" stroke="#6f3a9a" stroke-width="1.1" />
<line x1="154.63" y1="407.50" x2="157.63" y2="407.50" stroke="#6f3a9a" stroke-width="1.1" />
<line x1="172.12" y1="410.40" x2="172.12" y2="407.00" stroke="#6f3a9a" stroke-width="1.1" />
<line x1="170.62" y1="407.00" x2="173.62" y2="407.00" stroke="#6f3a9a" stroke-width="1.1" />
<line x1="193.44" y1="408.80" x2="193.44" y2="404.30" stroke="#6f3a9a" stroke-width="1.1" />
<line x1="191.94" y1="404.30" x2="194.94" y2="404.30" stroke="#6f3a9a" stroke-width="1.1" />
<circle cx="44.20" cy="417.70" r="2.4" fill="#f4d0c8" stroke="#a02838" stroke-width="1.3"/>
<circle cx="60.19" cy="417.00" r="2.4" fill="#f4d0c8" stroke="#a02838" stroke-width="1.3"/>
<circle cx="81.51" cy="417.00" r="2.4" fill="#f4d0c8" stroke="#a02838" stroke-width="1.3"/>
<circle cx="97.50" cy="416.80" r="2.4" fill="#f4d0c8" stroke="#a02838" stroke-width="1.3"/>
<circle cx="118.82" cy="417.00" r="2.4" fill="#f4d0c8" stroke="#a02838" stroke-width="1.3"/>
<circle cx="134.81" cy="417.60" r="2.4" fill="#f4d0c8" stroke="#a02838" stroke-width="1.3"/>
<circle cx="156.13" cy="419.30" r="2.4" fill="#f4d0c8" stroke="#a02838" stroke-width="1.3"/>
<circle cx="172.12" cy="420.10" r="2.4" fill="#f4d0c8" stroke="#a02838" stroke-width="1.3"/>
<circle cx="193.44" cy="417.60" r="2.4" fill="#f4d0c8" stroke="#a02838" stroke-width="1.3"/>
<circle cx="44.20" cy="417.70" r="1.2" fill="#8c7a48" stroke="none" stroke-width="0"/>
<circle cx="60.19" cy="416.80" r="1.2" fill="#8c7a48" stroke="none" stroke-width="0"/>
<circle cx="81.51" cy="416.20" r="1.2" fill="#8c7a48" stroke="none" stroke-width="0"/>
<circle cx="97.50" cy="416.20" r="1.2" fill="#8c7a48" stroke="none" stroke-width="0"/>
<circle cx="118.82" cy="416.00" r="1.2" fill="#8c7a48" stroke="none" stroke-width="0"/>
<circle cx="134.81" cy="416.40" r="1.2" fill="#8c7a48" stroke="none" stroke-width="0"/>
<circle cx="156.13" cy="416.60" r="1.2" fill="#8c7a48" stroke="none" stroke-width="0"/>
<circle cx="172.12" cy="416.80" r="1.2" fill="#8c7a48" stroke="none" stroke-width="0"/>
<circle cx="193.44" cy="416.40" r="1.2" fill="#8c7a48" stroke="none" stroke-width="0"/>
<circle cx="44.20" cy="417.70" r="1.2" fill="#7cc250" stroke="none" stroke-width="0"/>
<circle cx="60.19" cy="416.50" r="1.2" fill="#7cc250" stroke="none" stroke-width="0"/>
<circle cx="81.51" cy="415.20" r="1.2" fill="#7cc250" stroke="none" stroke-width="0"/>
<circle cx="97.50" cy="414.60" r="1.2" fill="#7cc250" stroke="none" stroke-width="0"/>
<circle cx="118.82" cy="414.40" r="1.2" fill="#7cc250" stroke="none" stroke-width="0"/>
<circle cx="134.81" cy="414.60" r="1.2" fill="#7cc250" stroke="none" stroke-width="0"/>
<circle cx="156.13" cy="415.00" r="1.2" fill="#7cc250" stroke="none" stroke-width="0"/>
<circle cx="172.12" cy="415.20" r="1.2" fill="#7cc250" stroke="none" stroke-width="0"/>
<circle cx="193.44" cy="415.50" r="1.2" fill="#7cc250" stroke="none" stroke-width="0"/>
<circle cx="44.20" cy="417.70" r="2.0" fill="#6f3a9a" stroke="none" stroke-width="0"/>
<circle cx="60.19" cy="416.50" r="2.0" fill="#6f3a9a" stroke="none" stroke-width="0"/>
<circle cx="81.51" cy="415.00" r="2.0" fill="#6f3a9a" stroke="none" stroke-width="0"/>
<circle cx="97.50" cy="414.60" r="2.0" fill="#6f3a9a" stroke="none" stroke-width="0"/>
<circle cx="118.82" cy="412.60" r="2.0" fill="#6f3a9a" stroke="none" stroke-width="0"/>
<circle cx="134.81" cy="411.80" r="2.0" fill="#6f3a9a" stroke="none" stroke-width="0"/>
<circle cx="156.13" cy="410.90" r="2.0" fill="#6f3a9a" stroke="none" stroke-width="0"/>
<circle cx="172.12" cy="410.40" r="2.0" fill="#6f3a9a" stroke="none" stroke-width="0"/>
<circle cx="193.44" cy="408.80" r="2.0" fill="#6f3a9a" stroke="none" stroke-width="0"/>
<circle cx="44.20" cy="417.70" r="1.3" fill="#ea7a3e" stroke="none" stroke-width="0"/>
<circle cx="60.19" cy="416.50" r="1.3" fill="#ea7a3e" stroke="none" stroke-width="0"/>
<circle cx="81.51" cy="413.50" r="1.3" fill="#ea7a3e" stroke="none" stroke-width="0"/>
<circle cx="97.50" cy="411.30" r="1.3" fill="#ea7a3e" stroke="none" stroke-width="0"/>
<circle cx="118.82" cy="404.90" r="1.3" fill="#ea7a3e" stroke="none" stroke-width="0"/>
<circle cx="134.81" cy="398.60" r="1.3" fill="#ea7a3e" stroke="none" stroke-width="0"/>
<circle cx="156.13" cy="388.60" r="1.3" fill="#ea7a3e" stroke="none" stroke-width="0"/>
<circle cx="172.12" cy="376.30" r="1.3" fill="#ea7a3e" stroke="none" stroke-width="0"/>
<circle cx="193.44" cy="354.00" r="1.3" fill="#ea7a3e" stroke="none" stroke-width="0"/>
<rect x="42.60" y="416.10" width="3.2" height="3.2" fill="#3a4ca2"/>
<rect x="58.59" y="414.90" width="3.2" height="3.2" fill="#3a4ca2"/>
<rect x="79.91" y="409.90" width="3.2" height="3.2" fill="#3a4ca2"/>
<rect x="95.90" y="406.50" width="3.2" height="3.2" fill="#3a4ca2"/>
<rect x="117.22" y="399.10" width="3.2" height="3.2" fill="#3a4ca2"/>
<rect x="133.21" y="390.20" width="3.2" height="3.2" fill="#3a4ca2"/>
<rect x="154.53" y="377.90" width="3.2" height="3.2" fill="#3a4ca2"/>
<rect x="170.52" y="361.90" width="3.2" height="3.2" fill="#3a4ca2"/>
<rect x="191.84" y="342.40" width="3.2" height="3.2" fill="#3a4ca2"/>
<circle cx="44.20" cy="417.80" r="2.9" fill="#4a4aa0" stroke="none" stroke-width="0"/>
<circle cx="60.19" cy="416.60" r="2.9" fill="#4a4aa0" stroke="none" stroke-width="0"/>
<text x="198.80" y="356.00" font-size="7.0" font-weight="bold" text-anchor="start" fill="#e87a44" stroke="#e87a44" stroke-width="0.08" >14% TGI</text>
<text x="197.20" y="406.40" font-size="7.0" font-weight="bold" text-anchor="start" fill="#6f3a9a" stroke="#6f3a9a" stroke-width="0.32" >90% TGI**</text>
<text x="197.20" y="412.90" font-size="7.0" font-weight="bold" text-anchor="start" fill="#78c048" stroke="#78c048" stroke-width="0.32" >99% TGI**</text>
<text x="197.20" y="419.50" font-size="7.0" font-weight="bold" text-anchor="start" fill="#8c7448" stroke="#8c7448" stroke-width="0.32" >90% TGI**</text>
<text x="197.20" y="426.20" font-size="7.0" font-weight="bold" text-anchor="start" fill="#9c2838" stroke="#9c2838" stroke-width="0.32" >99% TGI**</text>
<line x1="25.20" y1="468.30" x2="33.20" y2="468.30" stroke="#3a4ca2" stroke-width="1.0" />
<rect x="28.00" y="467.10" width="2.4" height="2.4" fill="#3a4ca2"/>
<text x="37.80" y="471.20" font-size="8.2" font-weight="normal" text-anchor="start" fill="#1a1a1a" stroke="#1a1a1a" stroke-width="0.06" >Vehicle (<tspan font-style="italic">n</tspan> = 7)</text>
<line x1="25.20" y1="477.80" x2="33.20" y2="477.80" stroke="#ea7a3e" stroke-width="1.0" />
<circle cx="29.20" cy="477.80" r="1.3" fill="#ea7a3e" stroke="none" stroke-width="0"/>
<text x="37.80" y="480.70" font-size="8.2" font-weight="normal" text-anchor="start" fill="#1a1a1a" stroke="#1a1a1a" stroke-width="0.06" >Osimertinib, 25 mg/kg, PO, QD (<tspan font-style="italic">n</tspan> = 7)</text>
<line x1="25.20" y1="487.30" x2="33.20" y2="487.30" stroke="#6f3a9a" stroke-width="1.0" />
<circle cx="29.20" cy="487.30" r="1.3" fill="#6f3a9a" stroke="none" stroke-width="0"/>
<text x="37.80" y="490.20" font-size="8.2" font-weight="normal" text-anchor="start" fill="#1a1a1a" stroke="#1a1a1a" stroke-width="0.06" >BBT-176, 60 mg/kg, PO, QD (<tspan font-style="italic">n</tspan> = 7)</text>
<line x1="25.20" y1="496.80" x2="33.20" y2="496.80" stroke="#7cc250" stroke-width="1.0" />
<circle cx="29.20" cy="496.80" r="1.3" fill="#7cc250" stroke="none" stroke-width="0"/>
<text x="37.80" y="499.70" font-size="8.2" font-weight="normal" text-anchor="start" fill="#1a1a1a" stroke="#1a1a1a" stroke-width="0.06" >BBT-176, 90 mg/kg, PO, QD (<tspan font-style="italic">n</tspan> = 7)</text>
<line x1="25.20" y1="506.30" x2="33.20" y2="506.30" stroke="#8c7a48" stroke-width="1.0" />
<circle cx="29.20" cy="506.30" r="1.3" fill="#8c7a48" stroke="none" stroke-width="0"/>
<text x="37.80" y="509.20" font-size="8.2" font-weight="normal" text-anchor="start" fill="#1a1a1a" stroke="#1a1a1a" stroke-width="0.06" >BBT-176 + Osimertinib, 60 + 5 mg/kg, PO, QD (<tspan font-style="italic">n</tspan> = 7)</text>
<line x1="25.20" y1="515.80" x2="33.20" y2="515.80" stroke="#a02838" stroke-width="1.0" />
<circle cx="29.20" cy="515.80" r="1.8" fill="none" stroke="#a02838" stroke-width="1.0"/>
<text x="37.80" y="518.70" font-size="8.2" font-weight="normal" text-anchor="start" fill="#1a1a1a" stroke="#1a1a1a" stroke-width="0.06" >BBT-176 + Osimertinib, 90 + 5 mg/kg, PO, QD (<tspan font-style="italic">n</tspan> = 7)</text>
<text x="278.25" y="331.40" font-size="5.8" font-weight="bold" text-anchor="middle" fill="#1a1a1a" stroke="#1a1a1a" stroke-width="0.32" >Vehicle</text>
<line x1="264.25" y1="335.30" x2="292.25" y2="335.30" stroke="#8a8a8a" stroke-width="0.8" />
<text x="270.75" y="347.20" font-size="6.8" font-weight="bold" text-anchor="middle" fill="#1a1a1a" stroke="#1a1a1a" stroke-width="0.32" >1</text>
<text x="285.90" y="347.20" font-size="6.8" font-weight="bold" text-anchor="middle" fill="#1a1a1a" stroke="#1a1a1a" stroke-width="0.32" >2</text>
<text x="311.25" y="324.55" font-size="5.8" font-weight="bold" text-anchor="middle" fill="#1a1a1a" stroke="#1a1a1a" stroke-width="0.32" >Osimertinib</text>
<text x="311.25" y="331.40" font-size="5.8" font-weight="bold" text-anchor="middle" fill="#1a1a1a" stroke="#1a1a1a" stroke-width="0.32" >25 mg/kg</text>
<line x1="297.25" y1="335.30" x2="325.25" y2="335.30" stroke="#8a8a8a" stroke-width="0.8" />
<text x="303.30" y="347.20" font-size="6.8" font-weight="bold" text-anchor="middle" fill="#1a1a1a" stroke="#1a1a1a" stroke-width="0.32" >1</text>
<text x="319.20" y="347.20" font-size="6.8" font-weight="bold" text-anchor="middle" fill="#1a1a1a" stroke="#1a1a1a" stroke-width="0.32" >2</text>
<text x="343.75" y="324.55" font-size="5.8" font-weight="bold" text-anchor="middle" fill="#1a1a1a" stroke="#1a1a1a" stroke-width="0.32" >BBT-176</text>
<text x="343.75" y="331.40" font-size="5.8" font-weight="bold" text-anchor="middle" fill="#1a1a1a" stroke="#1a1a1a" stroke-width="0.32" >60 mg/kg</text>
<line x1="329.75" y1="335.30" x2="357.75" y2="335.30" stroke="#8a8a8a" stroke-width="0.8" />
<text x="335.70" y="347.20" font-size="6.8" font-weight="bold" text-anchor="middle" fill="#1a1a1a" stroke="#1a1a1a" stroke-width="0.32" >1</text>
<text x="351.60" y="347.20" font-size="6.8" font-weight="bold" text-anchor="middle" fill="#1a1a1a" stroke="#1a1a1a" stroke-width="0.32" >2</text>
<text x="376.50" y="324.55" font-size="5.8" font-weight="bold" text-anchor="middle" fill="#1a1a1a" stroke="#1a1a1a" stroke-width="0.32" >BBT-176</text>
<text x="376.50" y="331.40" font-size="5.8" font-weight="bold" text-anchor="middle" fill="#1a1a1a" stroke="#1a1a1a" stroke-width="0.32" >90 mg/kg</text>
<line x1="362.50" y1="335.30" x2="390.50" y2="335.30" stroke="#8a8a8a" stroke-width="0.8" />
<text x="368.75" y="347.20" font-size="6.8" font-weight="bold" text-anchor="middle" fill="#1a1a1a" stroke="#1a1a1a" stroke-width="0.32" >1</text>
<text x="384.25" y="347.20" font-size="6.8" font-weight="bold" text-anchor="middle" fill="#1a1a1a" stroke="#1a1a1a" stroke-width="0.32" >2</text>
<text x="411.30" y="304.00" font-size="5.8" font-weight="bold" text-anchor="middle" fill="#1a1a1a" stroke="#1a1a1a" stroke-width="0.32" >BBT-176</text>
<text x="411.30" y="310.85" font-size="5.8" font-weight="bold" text-anchor="middle" fill="#1a1a1a" stroke="#1a1a1a" stroke-width="0.32" >60 mg/kg</text>
<text x="411.30" y="317.70" font-size="5.8" font-weight="bold" text-anchor="middle" fill="#1a1a1a" stroke="#1a1a1a" stroke-width="0.32" >+</text>
<text x="411.30" y="324.55" font-size="5.8" font-weight="bold" text-anchor="middle" fill="#1a1a1a" stroke="#1a1a1a" stroke-width="0.32" >Osimertinib</text>
<text x="411.30" y="331.40" font-size="5.8" font-weight="bold" text-anchor="middle" fill="#1a1a1a" stroke="#1a1a1a" stroke-width="0.32" >5 mg/kg</text>
<line x1="397.30" y1="335.30" x2="425.30" y2="335.30" stroke="#8a8a8a" stroke-width="0.8" />
<text x="403.25" y="347.20" font-size="6.8" font-weight="bold" text-anchor="middle" fill="#1a1a1a" stroke="#1a1a1a" stroke-width="0.32" >1</text>
<text x="419.50" y="347.20" font-size="6.8" font-weight="bold" text-anchor="middle" fill="#1a1a1a" stroke="#1a1a1a" stroke-width="0.32" >2</text>
<text x="446.00" y="304.00" font-size="5.8" font-weight="bold" text-anchor="middle" fill="#1a1a1a" stroke="#1a1a1a" stroke-width="0.32" >BBT-176</text>
<text x="446.00" y="310.85" font-size="5.8" font-weight="bold" text-anchor="middle" fill="#1a1a1a" stroke="#1a1a1a" stroke-width="0.32" >90 mg/kg</text>
<text x="446.00" y="317.70" font-size="5.8" font-weight="bold" text-anchor="middle" fill="#1a1a1a" stroke="#1a1a1a" stroke-width="0.32" >+</text>
<text x="446.00" y="324.55" font-size="5.8" font-weight="bold" text-anchor="middle" fill="#1a1a1a" stroke="#1a1a1a" stroke-width="0.32" >Osimertinib</text>
<text x="446.00" y="331.40" font-size="5.8" font-weight="bold" text-anchor="middle" fill="#1a1a1a" stroke="#1a1a1a" stroke-width="0.32" >5 mg/kg</text>
<line x1="432.00" y1="335.30" x2="460.00" y2="335.30" stroke="#8a8a8a" stroke-width="0.8" />
<text x="436.25" y="347.20" font-size="6.8" font-weight="bold" text-anchor="middle" fill="#1a1a1a" stroke="#1a1a1a" stroke-width="0.32" >1</text>
<text x="452.50" y="347.20" font-size="6.8" font-weight="bold" text-anchor="middle" fill="#1a1a1a" stroke="#1a1a1a" stroke-width="0.32" >2</text>
<text x="464.30" y="346.20" font-size="6.5" font-weight="bold" text-anchor="start" fill="#1a1a1a" stroke="#1a1a1a" stroke-width="0.32" >Sample</text>
<defs><filter id="bl" x="-30%" y="-150%" width="160%" height="400%"><feGaussianBlur stdDeviation="0.75"/></filter><filter id="bl2" x="-30%" y="-150%" width="160%" height="400%"><feGaussianBlur stdDeviation="1.4"/></filter></defs>
<rect x="262.90" y="351.00" width="198.10" height="17.30" fill="#dedede" stroke="#5e5e5e" stroke-width="0.8"/>
<rect x="264.90" y="357.05" width="13.40" height="8.2" fill="rgb(193,193,193)" filter="url(#bl2)"/>
<rect x="265.40" y="357.55" width="12.40" height="3.7" rx="1.5" fill="rgb(45,45,45)" filter="url(#bl)"/>
<rect x="281.50" y="357.05" width="13.40" height="8.2" fill="rgb(193,193,193)" filter="url(#bl2)"/>
<rect x="282.00" y="357.55" width="12.40" height="3.7" rx="1.5" fill="rgb(49,49,49)" filter="url(#bl)"/>
<rect x="297.60" y="357.05" width="13.40" height="8.2" fill="rgb(194,194,194)" filter="url(#bl2)"/>
<rect x="298.10" y="357.55" width="12.40" height="3.7" rx="1.5" fill="rgb(54,54,54)" filter="url(#bl)"/>
<rect x="313.80" y="357.05" width="13.40" height="8.2" fill="rgb(193,193,193)" filter="url(#bl2)"/>
<rect x="314.30" y="357.55" width="12.40" height="3.7" rx="1.5" fill="rgb(45,45,45)" filter="url(#bl)"/>
<rect x="330.30" y="357.05" width="13.40" height="8.2" fill="rgb(216,216,216)" filter="url(#bl2)"/>
<rect x="330.80" y="357.55" width="12.40" height="3.7" rx="1.5" fill="rgb(182,182,182)" filter="url(#bl)"/>
<rect x="346.50" y="357.05" width="13.40" height="8.2" fill="rgb(211,211,211)" filter="url(#bl2)"/>
<rect x="347.00" y="357.55" width="12.40" height="3.7" rx="1.5" fill="rgb(150,150,150)" filter="url(#bl)"/>
<rect x="363.00" y="357.05" width="13.40" height="8.2" fill="rgb(203,203,203)" filter="url(#bl2)"/>
<rect x="363.50" y="357.55" width="12.40" height="3.7" rx="1.5" fill="rgb(106,106,106)" filter="url(#bl)"/>
<rect x="379.10" y="357.05" width="13.40" height="8.2" fill="rgb(213,213,213)" filter="url(#bl2)"/>
<rect x="379.60" y="357.55" width="12.40" height="3.7" rx="1.5" fill="rgb(164,164,164)" filter="url(#bl)"/>
<rect x="395.70" y="357.05" width="13.40" height="8.2" fill="rgb(211,211,211)" filter="url(#bl2)"/>
<rect x="396.20" y="357.55" width="12.40" height="3.7" rx="1.5" fill="rgb(150,150,150)" filter="url(#bl)"/>
<rect x="411.90" y="357.05" width="13.40" height="8.2" fill="rgb(210,210,210)" filter="url(#bl2)"/>
<rect x="412.40" y="357.55" width="12.40" height="3.7" rx="1.5" fill="rgb(147,147,147)" filter="url(#bl)"/>
<rect x="427.90" y="357.05" width="13.40" height="8.2" fill="rgb(208,208,208)" filter="url(#bl2)"/>
<rect x="428.40" y="357.55" width="12.40" height="3.7" rx="1.5" fill="rgb(136,136,136)" filter="url(#bl)"/>
<rect x="444.10" y="357.05" width="13.40" height="8.2" fill="rgb(217,217,217)" filter="url(#bl2)"/>
<rect x="444.60" y="357.55" width="12.40" height="3.7" rx="1.5" fill="rgb(185,185,185)" filter="url(#bl)"/>
<line x1="296.25" y1="351.60" x2="296.25" y2="367.70" stroke="#e6e6e6" stroke-width="0.6" />
<line x1="328.75" y1="351.60" x2="328.75" y2="367.70" stroke="#e6e6e6" stroke-width="0.6" />
<line x1="361.45" y1="351.60" x2="361.45" y2="367.70" stroke="#e6e6e6" stroke-width="0.6" />
<line x1="394.10" y1="351.60" x2="394.10" y2="367.70" stroke="#e6e6e6" stroke-width="0.6" />
<line x1="426.60" y1="351.60" x2="426.60" y2="367.70" stroke="#e6e6e6" stroke-width="0.6" />
<path d="M465.2,360.20 l4.4,-2.7 v5.4 z" fill="#1a1a1a"/>
<text x="471.60" y="362.50" font-size="6.3" font-weight="bold" text-anchor="start" fill="#1a1a1a" stroke="#1a1a1a" stroke-width="0.32" >p-EGFR (Y1068)</text>
<rect x="262.90" y="371.70" width="198.10" height="17.60" fill="#dedede" stroke="#5e5e5e" stroke-width="0.8"/>
<rect x="263.00" y="377.10" width="17.20" height="7.5" fill="rgb(195,195,195)" filter="url(#bl2)"/>
<rect x="263.50" y="377.60" width="16.20" height="3.0" rx="1.5" fill="rgb(59,59,59)" filter="url(#bl)"/>
<rect x="279.60" y="377.10" width="17.20" height="7.5" fill="rgb(195,195,195)" filter="url(#bl2)"/>
<rect x="280.10" y="377.60" width="16.20" height="3.0" rx="1.5" fill="rgb(59,59,59)" filter="url(#bl)"/>
<rect x="295.70" y="377.10" width="17.20" height="7.5" fill="rgb(195,195,195)" filter="url(#bl2)"/>
<rect x="296.20" y="377.60" width="16.20" height="3.0" rx="1.5" fill="rgb(59,59,59)" filter="url(#bl)"/>
<rect x="311.90" y="377.10" width="17.20" height="7.5" fill="rgb(195,195,195)" filter="url(#bl2)"/>
<rect x="312.40" y="377.60" width="16.20" height="3.0" rx="1.5" fill="rgb(59,59,59)" filter="url(#bl)"/>
<rect x="328.40" y="377.10" width="17.20" height="7.5" fill="rgb(195,195,195)" filter="url(#bl2)"/>
<rect x="328.90" y="377.60" width="16.20" height="3.0" rx="1.5" fill="rgb(59,59,59)" filter="url(#bl)"/>
<rect x="344.60" y="377.10" width="17.20" height="7.5" fill="rgb(195,195,195)" filter="url(#bl2)"/>
<rect x="345.10" y="377.60" width="16.20" height="3.0" rx="1.5" fill="rgb(59,59,59)" filter="url(#bl)"/>
<rect x="361.10" y="377.10" width="17.20" height="7.5" fill="rgb(195,195,195)" filter="url(#bl2)"/>
<rect x="361.60" y="377.60" width="16.20" height="3.0" rx="1.5" fill="rgb(59,59,59)" filter="url(#bl)"/>
<rect x="377.20" y="377.10" width="17.20" height="7.5" fill="rgb(195,195,195)" filter="url(#bl2)"/>
<rect x="377.70" y="377.60" width="16.20" height="3.0" rx="1.5" fill="rgb(59,59,59)" filter="url(#bl)"/>
<rect x="393.80" y="377.10" width="17.20" height="7.5" fill="rgb(195,195,195)" filter="url(#bl2)"/>
<rect x="394.30" y="377.60" width="16.20" height="3.0" rx="1.5" fill="rgb(59,59,59)" filter="url(#bl)"/>
<rect x="410.00" y="377.10" width="17.20" height="7.5" fill="rgb(195,195,195)" filter="url(#bl2)"/>
<rect x="410.50" y="377.60" width="16.20" height="3.0" rx="1.5" fill="rgb(59,59,59)" filter="url(#bl)"/>
<rect x="426.00" y="377.10" width="17.20" height="7.5" fill="rgb(195,195,195)" filter="url(#bl2)"/>
<rect x="426.50" y="377.60" width="16.20" height="3.0" rx="1.5" fill="rgb(59,59,59)" filter="url(#bl)"/>
<rect x="442.20" y="377.10" width="17.20" height="7.5" fill="rgb(195,195,195)" filter="url(#bl2)"/>
<rect x="442.70" y="377.60" width="16.20" height="3.0" rx="1.5" fill="rgb(59,59,59)" filter="url(#bl)"/>
<line x1="296.25" y1="372.30" x2="296.25" y2="388.70" stroke="#e6e6e6" stroke-width="0.6" />
<line x1="328.75" y1="372.30" x2="328.75" y2="388.70" stroke="#e6e6e6" stroke-width="0.6" />
<line x1="361.45" y1="372.30" x2="361.45" y2="388.70" stroke="#e6e6e6" stroke-width="0.6" />
<line x1="394.10" y1="372.30" x2="394.10" y2="388.70" stroke="#e6e6e6" stroke-width="0.6" />
<line x1="426.60" y1="372.30" x2="426.60" y2="388.70" stroke="#e6e6e6" stroke-width="0.6" />
<path d="M465.2,380.90 l4.4,-2.7 v5.4 z" fill="#1a1a1a"/>
<text x="471.60" y="383.20" font-size="6.6" font-weight="bold" text-anchor="start" fill="#1a1a1a" stroke="#1a1a1a" stroke-width="0.32" >β-Actin</text>
<rect x="262.90" y="392.40" width="198.10" height="17.80" fill="#dedede" stroke="#5e5e5e" stroke-width="0.8"/>
<rect x="264.90" y="398.35" width="13.40" height="8.4" fill="rgb(194,194,194)" filter="url(#bl2)"/>
<rect x="265.40" y="398.85" width="12.40" height="3.9" rx="1.5" fill="rgb(54,54,54)" filter="url(#bl)"/>
<rect x="281.50" y="398.35" width="13.40" height="8.4" fill="rgb(193,193,193)" filter="url(#bl2)"/>
<rect x="282.00" y="398.85" width="12.40" height="3.9" rx="1.5" fill="rgb(45,45,45)" filter="url(#bl)"/>
<rect x="297.60" y="398.35" width="13.40" height="8.4" fill="rgb(191,191,191)" filter="url(#bl2)"/>
<rect x="298.10" y="398.85" width="12.40" height="3.9" rx="1.5" fill="rgb(36,36,36)" filter="url(#bl)"/>
<rect x="313.80" y="398.35" width="13.40" height="8.4" fill="rgb(190,190,190)" filter="url(#bl2)"/>
<rect x="314.30" y="398.85" width="12.40" height="3.9" rx="1.5" fill="rgb(31,31,31)" filter="url(#bl)"/>
<rect x="330.30" y="398.35" width="13.40" height="8.4" fill="rgb(211,211,211)" filter="url(#bl2)"/>
<rect x="330.80" y="398.85" width="12.40" height="3.9" rx="1.5" fill="rgb(150,150,150)" filter="url(#bl)"/>
<rect x="346.50" y="398.35" width="13.40" height="8.4" fill="rgb(203,203,203)" filter="url(#bl2)"/>
<rect x="347.00" y="398.85" width="12.40" height="3.9" rx="1.5" fill="rgb(106,106,106)" filter="url(#bl)"/>
<rect x="363.00" y="398.35" width="13.40" height="8.4" fill="rgb(202,202,202)" filter="url(#bl2)"/>
<rect x="363.50" y="398.85" width="12.40" height="3.9" rx="1.5" fill="rgb(98,98,98)" filter="url(#bl)"/>
<rect x="379.10" y="398.35" width="13.40" height="8.4" fill="rgb(205,205,205)" filter="url(#bl2)"/>
<rect x="379.60" y="398.85" width="12.40" height="3.9" rx="1.5" fill="rgb(115,115,115)" filter="url(#bl)"/>
<rect x="395.70" y="398.35" width="13.40" height="8.4" fill="rgb(202,202,202)" filter="url(#bl2)"/>
<rect x="396.20" y="398.85" width="12.40" height="3.9" rx="1.5" fill="rgb(98,98,98)" filter="url(#bl)"/>
<rect x="411.90" y="398.35" width="13.40" height="8.4" fill="rgb(197,197,197)" filter="url(#bl2)"/>
<rect x="412.40" y="398.85" width="12.40" height="3.9" rx="1.5" fill="rgb(71,71,71)" filter="url(#bl)"/>
<rect x="427.90" y="398.35" width="13.40" height="8.4" fill="rgb(206,206,206)" filter="url(#bl2)"/>
<rect x="428.40" y="398.85" width="12.40" height="3.9" rx="1.5" fill="rgb(124,124,124)" filter="url(#bl)"/>
<rect x="444.10" y="398.35" width="13.40" height="8.4" fill="rgb(211,211,211)" filter="url(#bl2)"/>
<rect x="444.60" y="398.85" width="12.40" height="3.9" rx="1.5" fill="rgb(150,150,150)" filter="url(#bl)"/>
<line x1="296.25" y1="393.00" x2="296.25" y2="409.60" stroke="#e6e6e6" stroke-width="0.6" />
<line x1="328.75" y1="393.00" x2="328.75" y2="409.60" stroke="#e6e6e6" stroke-width="0.6" />
<line x1="361.45" y1="393.00" x2="361.45" y2="409.60" stroke="#e6e6e6" stroke-width="0.6" />
<line x1="394.10" y1="393.00" x2="394.10" y2="409.60" stroke="#e6e6e6" stroke-width="0.6" />
<line x1="426.60" y1="393.00" x2="426.60" y2="409.60" stroke="#e6e6e6" stroke-width="0.6" />
<path d="M465.2,401.00 l4.4,-2.7 v5.4 z" fill="#1a1a1a"/>
<text x="471.60" y="403.30" font-size="6.6" font-weight="bold" text-anchor="start" fill="#1a1a1a" stroke="#1a1a1a" stroke-width="0.32" >EGFR</text>
<rect x="262.90" y="413.10" width="198.10" height="17.60" fill="#dedede" stroke="#5e5e5e" stroke-width="0.8"/>
<rect x="263.00" y="418.20" width="17.20" height="7.5" fill="rgb(195,195,195)" filter="url(#bl2)"/>
<rect x="263.50" y="418.70" width="16.20" height="3.0" rx="1.5" fill="rgb(59,59,59)" filter="url(#bl)"/>
<rect x="279.60" y="418.20" width="17.20" height="7.5" fill="rgb(195,195,195)" filter="url(#bl2)"/>
<rect x="280.10" y="418.70" width="16.20" height="3.0" rx="1.5" fill="rgb(59,59,59)" filter="url(#bl)"/>
<rect x="295.70" y="418.20" width="17.20" height="7.5" fill="rgb(195,195,195)" filter="url(#bl2)"/>
<rect x="296.20" y="418.70" width="16.20" height="3.0" rx="1.5" fill="rgb(59,59,59)" filter="url(#bl)"/>
<rect x="311.90" y="418.20" width="17.20" height="7.5" fill="rgb(195,195,195)" filter="url(#bl2)"/>
<rect x="312.40" y="418.70" width="16.20" height="3.0" rx="1.5" fill="rgb(59,59,59)" filter="url(#bl)"/>
<rect x="328.40" y="418.20" width="17.20" height="7.5" fill="rgb(195,195,195)" filter="url(#bl2)"/>
<rect x="328.90" y="418.70" width="16.20" height="3.0" rx="1.5" fill="rgb(59,59,59)" filter="url(#bl)"/>
<rect x="344.60" y="418.20" width="17.20" height="7.5" fill="rgb(195,195,195)" filter="url(#bl2)"/>
<rect x="345.10" y="418.70" width="16.20" height="3.0" rx="1.5" fill="rgb(59,59,59)" filter="url(#bl)"/>
<rect x="361.10" y="418.20" width="17.20" height="7.5" fill="rgb(195,195,195)" filter="url(#bl2)"/>
<rect x="361.60" y="418.70" width="16.20" height="3.0" rx="1.5" fill="rgb(59,59,59)" filter="url(#bl)"/>
<rect x="377.20" y="418.20" width="17.20" height="7.5" fill="rgb(195,195,195)" filter="url(#bl2)"/>
<rect x="377.70" y="418.70" width="16.20" height="3.0" rx="1.5" fill="rgb(59,59,59)" filter="url(#bl)"/>
<rect x="393.80" y="418.20" width="17.20" height="7.5" fill="rgb(195,195,195)" filter="url(#bl2)"/>
<rect x="394.30" y="418.70" width="16.20" height="3.0" rx="1.5" fill="rgb(59,59,59)" filter="url(#bl)"/>
<rect x="410.00" y="418.20" width="17.20" height="7.5" fill="rgb(195,195,195)" filter="url(#bl2)"/>
<rect x="410.50" y="418.70" width="16.20" height="3.0" rx="1.5" fill="rgb(59,59,59)" filter="url(#bl)"/>
<rect x="426.00" y="418.20" width="17.20" height="7.5" fill="rgb(195,195,195)" filter="url(#bl2)"/>
<rect x="426.50" y="418.70" width="16.20" height="3.0" rx="1.5" fill="rgb(59,59,59)" filter="url(#bl)"/>
<rect x="442.20" y="418.20" width="17.20" height="7.5" fill="rgb(195,195,195)" filter="url(#bl2)"/>
<rect x="442.70" y="418.70" width="16.20" height="3.0" rx="1.5" fill="rgb(59,59,59)" filter="url(#bl)"/>
<line x1="296.25" y1="413.70" x2="296.25" y2="430.10" stroke="#e6e6e6" stroke-width="0.6" />
<line x1="328.75" y1="413.70" x2="328.75" y2="430.10" stroke="#e6e6e6" stroke-width="0.6" />
<line x1="361.45" y1="413.70" x2="361.45" y2="430.10" stroke="#e6e6e6" stroke-width="0.6" />
<line x1="394.10" y1="413.70" x2="394.10" y2="430.10" stroke="#e6e6e6" stroke-width="0.6" />
<line x1="426.60" y1="413.70" x2="426.60" y2="430.10" stroke="#e6e6e6" stroke-width="0.6" />
<path d="M465.2,421.20 l4.4,-2.7 v5.4 z" fill="#1a1a1a"/>
<text x="471.60" y="423.50" font-size="6.6" font-weight="bold" text-anchor="start" fill="#1a1a1a" stroke="#1a1a1a" stroke-width="0.32" >β-Actin</text>
</svg>
</body></html>
